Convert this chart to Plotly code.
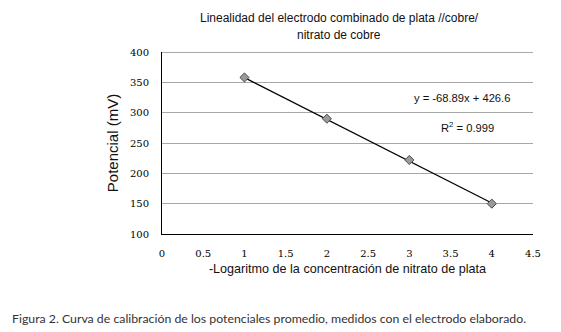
import plotly.graph_objects as go

x_vals = [1, 2, 3, 4]
y_vals = [358, 290, 222, 150]
slope = -68.89
intercept = 426.6
r2 = 0.999
x_ticks = [0, 0.5, 1, 1.5, 2, 2.5, 3, 3.5, 4, 4.5]
y_ticks = [100, 150, 200, 250, 300, 350, 400]

trend_y = [slope * x + intercept for x in x_vals]

fig = go.Figure()
fig.add_trace(go.Scatter(x=x_vals, y=trend_y, mode="lines",
                         line=dict(color="black", width=1.3), hoverinfo="skip"))
fig.add_trace(go.Scatter(x=x_vals, y=y_vals, mode="markers",
                         marker=dict(symbol="diamond", size=7, color="#9a9a9a",
                                     line=dict(color="#4a4a4a", width=1))))

tick_font = dict(family="DejaVu Serif", size=10, color="#000")

fig.update_layout(
    width=561, height=332,
    margin=dict(l=162, r=28, t=52, b=98),
    paper_bgcolor="white", plot_bgcolor="white",
    showlegend=False,
    xaxis=dict(range=[0, 4.5], tickvals=x_ticks, ticktext=[f"{t:g}" for t in x_ticks],
               showgrid=False, zeroline=False, showline=True, linecolor="black", linewidth=1,
               ticks="", tickfont=tick_font, ticklabelstandoff=10,
               title=dict(text="-Logaritmo de la concentración de nitrato de plata",
                          font=dict(family="Liberation Sans", size=12.6, color="#111"), standoff=6)),
    yaxis=dict(range=[100, 400], tickvals=y_ticks, showgrid=True, gridcolor="#a8a8a8", gridwidth=1,
               zeroline=False, showline=True, linecolor="black", linewidth=1, mirror=False,
               ticks="", tickfont=tick_font, ticklabelstandoff=10,
               title=dict(text="Potencial (mV)",
                          font=dict(family="Liberation Sans", size=15, color="#111"), standoff=7)),
    annotations=[
        dict(text="Linealidad del electrodo combinado de plata //cobre/", x=339, y=18,
             showarrow=False, font=dict(family="Liberation Sans", size=12, color="#111")),
        dict(text="nitrato de cobre", x=339, y=35, showarrow=False,
             font=dict(family="Liberation Sans", size=12, color="#111")),
        dict(text=f"y = {slope}x + {intercept}", x=462, y=98, showarrow=False,
             font=dict(family="Liberation Sans", size=11.2, color="#111")),
        dict(text=f"R<sup>2</sup> = {r2}", x=467, y=127, showarrow=False,
             font=dict(family="Liberation Sans", size=11.2, color="#111")),
        dict(text="Figura 2. Curva de calibración de los potenciales promedio, medidos con el electrodo elaborado.",
             x=10, y=318, xanchor="left", showarrow=False,
             font=dict(family="Lato", size=12.3, color="#333")),
    ],
)

# convert pixel positions of annotations to paper coordinates
W, H = 561, 332
L, R, T, B = 162, 28, 52, 98
pw, ph = W - L - R, H - T - B
for a in fig.layout.annotations:
    a.xref = "paper"
    a.yref = "paper"
    a.x = (a.x - L) / pw
    a.y = (H - B - a.y) / ph
    a.yanchor = "middle"
    if a.xanchor is None:
        a.xanchor = "center"

# top border line at 400
fig.add_shape(type="line", xref="paper", yref="y", x0=0, x1=1, y0=400, y1=400,
              line=dict(color="#555", width=1))

fig.write_html("out.html", config={"displayModeBar": False},
               post_script="document.body.style.margin='0';document.body.style.padding='0';")
